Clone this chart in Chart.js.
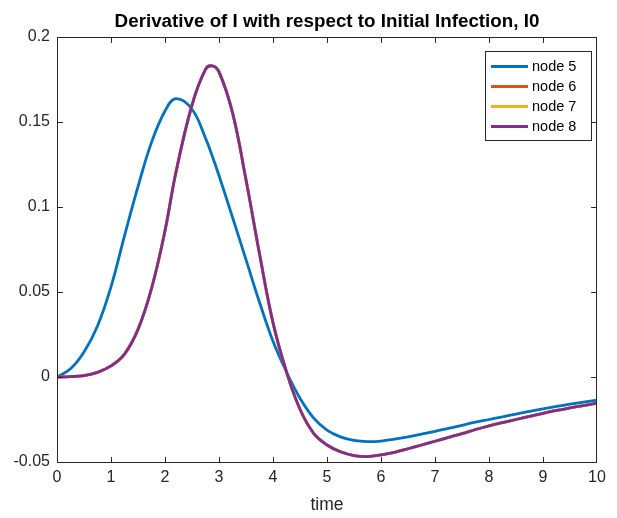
<!DOCTYPE html>
<html>
<head>
<meta charset="utf-8">
<script src="https://cdn.jsdelivr.net/npm/chart.js@4/dist/chart.umd.min.js"></script>
<style>
html,body{margin:0;padding:0;background:#fff;overflow:hidden}
#wrap{width:617px;height:518px;position:relative}
</style>
</head>
<body>
<div id="wrap"><canvas id="c" width="617" height="518"></canvas></div>
<script>
const chartTitle = 'Derivative of I with respect to Initial Infection, I0';
const xAxisLabel = 'time';
const seriesLabels = ['node 5', 'node 6', 'node 7', 'node 8'];
const seriesColors = ['#0072BD', '#D95319', '#EDB120', '#7E2F8E'];

const timeValues = [0, 0.25, 0.5, 0.75, 1, 1.25, 1.5, 1.75, 2, 2.2, 2.5, 2.75, 2.875,
  3, 3.25, 3.5, 3.75, 4, 4.25, 4.5, 4.75, 5, 5.25, 5.5, 5.75, 6, 6.25, 6.5, 6.75,
  7, 7.25, 7.5, 7.75, 8, 8.25, 8.5, 8.75, 9, 9.25, 9.5, 9.75, 10];

const node5Values = [0, 0.0048, 0.0147, 0.030, 0.053, 0.083, 0.112, 0.138, 0.1565, 0.1637, 0.1575, 0.1405, 0.130,
  0.1185, 0.094, 0.069, 0.044, 0.021, 0.003, -0.0125, -0.024, -0.0312, -0.0352, -0.0373, -0.038, -0.0377, -0.0366, -0.0352, -0.0336,
  -0.032, -0.0302, -0.0284, -0.0266, -0.025, -0.0234, -0.0218, -0.0202, -0.0187, -0.0173, -0.016, -0.0148, -0.0136];

const node6Values = [0, 0.0002, 0.0008, 0.0027, 0.0065, 0.0135, 0.028, 0.052, 0.086, 0.12, 0.160, 0.181, 0.183,
  0.1795, 0.1555, 0.116, 0.0725, 0.032, 0.003, -0.019, -0.033, -0.040, -0.044, -0.0462, -0.0468, -0.0458, -0.0443, -0.0422, -0.040,
  -0.0378, -0.0355, -0.0333, -0.0309, -0.0287, -0.0268, -0.025, -0.0232, -0.0214, -0.0197, -0.0182, -0.0168, -0.0154];

const node7Values = [0, 0.0002, 0.0008, 0.0027, 0.0065, 0.0135, 0.028, 0.052, 0.086, 0.12, 0.160, 0.181, 0.183,
  0.1795, 0.1555, 0.116, 0.0725, 0.032, 0.003, -0.019, -0.033, -0.040, -0.044, -0.0462, -0.0468, -0.0458, -0.0443, -0.0422, -0.040,
  -0.0378, -0.0355, -0.0333, -0.0309, -0.0287, -0.0268, -0.025, -0.0232, -0.0214, -0.0197, -0.0182, -0.0168, -0.0154];

const node8Values = [0, 0.0002, 0.0008, 0.0027, 0.0065, 0.0135, 0.028, 0.052, 0.086, 0.12, 0.160, 0.181, 0.183,
  0.1795, 0.1555, 0.116, 0.0725, 0.032, 0.003, -0.019, -0.033, -0.040, -0.044, -0.0462, -0.0468, -0.0458, -0.0443, -0.0422, -0.040,
  -0.0378, -0.0355, -0.0333, -0.0309, -0.0287, -0.0268, -0.025, -0.0232, -0.0214, -0.0197, -0.0182, -0.0168, -0.0154];

const xTicks = [0, 1, 2, 3, 4, 5, 6, 7, 8, 9, 10];
const yTicks = [-0.05, 0, 0.05, 0.1, 0.15, 0.2];

const FONT = '"Liberation Sans", Arial, Helvetica, sans-serif';
const AXIS_COLOR = '#262626';

const allSeries = [node5Values, node6Values, node7Values, node8Values];
const datasets = allSeries.map((vals, i) => ({
  label: seriesLabels[i],
  data: timeValues.map((t, k) => ({x: t, y: vals[k]})),
  borderColor: seriesColors[i],
  backgroundColor: seriesColors[i],
  borderWidth: 2.8,
  pointRadius: 0,
  fill: false,
  tension: 0.4,
  order: allSeries.length - 1 - i,
  xAxisID: 'x',
  yAxisID: 'y'
}));

const frameAndTicks = {
  id: 'frameAndTicks',
  afterDatasetsDraw(chart) {
    const {ctx, chartArea: a, scales: {x, y}} = chart;
    const L = a.left + 0.5, R = a.right - 0.5, T = a.top + 0.5, B = a.bottom + 0.5;
    const len = 5.4;
    ctx.save();
    ctx.strokeStyle = AXIS_COLOR;
    ctx.lineWidth = 1;
    ctx.beginPath();
    x.ticks.forEach(t => {
      let px = Math.round(x.getPixelForValue(t.value)) + 0.5;
      px = Math.min(Math.max(px, L), R);
      ctx.moveTo(px, B); ctx.lineTo(px, B - len);
      ctx.moveTo(px, T); ctx.lineTo(px, T + len);
    });
    y.ticks.forEach(t => {
      let py = Math.round(y.getPixelForValue(t.value)) + 0.5;
      py = Math.min(Math.max(py, T), B);
      ctx.moveTo(L, py); ctx.lineTo(L + len, py);
      ctx.moveTo(R, py); ctx.lineTo(R - len, py);
    });
    ctx.moveTo(L, T); ctx.lineTo(R, T); ctx.lineTo(R, B); ctx.lineTo(L, B); ctx.closePath();
    ctx.stroke();
    ctx.restore();
  }
};

const boxLegend = {
  id: 'boxLegend',
  afterDraw(chart) {
    const {ctx, chartArea: a} = chart;
    const ds = chart.data.datasets;
    ctx.save();
    ctx.font = '14.5px ' + FONT;
    const tw = Math.max(...ds.map(d => ctx.measureText(d.label).width));
    const padL = 6, lineLen = 37, gap = 4, padR = 15, rowH = 20;
    const w = padL + lineLen + gap + tw + padR;
    const h = ds.length * rowH + 9;
    const bx = Math.round(a.right - 6 - w), by = Math.round(a.top + 13.5);
    ctx.fillStyle = '#fff';
    ctx.fillRect(bx, by, w, h);
    ctx.strokeStyle = AXIS_COLOR;
    ctx.lineWidth = 1;
    ctx.strokeRect(bx + 0.5, by + 0.5, Math.round(w), h);
    ds.forEach((d, i) => {
      const cy = by + 15.5 + i * rowH;
      ctx.strokeStyle = d.borderColor;
      ctx.lineWidth = 2.8;
      ctx.beginPath();
      ctx.moveTo(bx + padL, cy); ctx.lineTo(bx + padL + lineLen, cy);
      ctx.stroke();
      ctx.fillStyle = '#000';
      ctx.textBaseline = 'middle';
      ctx.textAlign = 'left';
      ctx.fillText(d.label, bx + padL + lineLen + gap, cy);
    });
    ctx.restore();
  }
};

new Chart(document.getElementById('c'), {
  type: 'line',
  data: {datasets},
  plugins: [frameAndTicks, boxLegend],
  options: {
    responsive: false,
    animation: false,
    devicePixelRatio: 1,
    events: [],
    layout: {padding: 0},
    plugins: {legend: {display: false}, tooltip: {enabled: false}, title: {display: false}},
    scales: {
      x: {
        type: 'linear', position: 'bottom', min: 0, max: 10,
        afterBuildTicks: s => { s.ticks = xTicks.map(v => ({value: v})); },
        afterFit: s => { s.height = 56; },
        grid: {display: false, drawTicks: false},
        border: {display: false},
        ticks: {color: AXIS_COLOR, font: {family: FONT, size: 16}, padding: 6, maxRotation: 0,
          callback: v => String(v)},
        title: {display: true, text: xAxisLabel, color: AXIS_COLOR, font: {family: FONT, size: 17.5},
          padding: {top: 0, bottom: 2}}
      },
      xTop: {
        type: 'linear', position: 'top', min: 0, max: 10,
        afterFit: s => { s.height = 37; },
        grid: {display: false, drawTicks: false},
        border: {display: false},
        ticks: {display: false},
        title: {display: true, text: chartTitle, color: '#000', font: {family: FONT, size: 18.8, weight: 'bold'},
          padding: {top: 11, bottom: 0}}
      },
      y: {
        type: 'linear', position: 'left', min: -0.05, max: 0.2,
        afterBuildTicks: s => { s.ticks = yTicks.map(v => ({value: v})); },
        afterFit: s => { s.width = 57; },
        grid: {display: false, drawTicks: false},
        border: {display: false},
        ticks: {color: AXIS_COLOR, font: {family: FONT, size: 16}, padding: 7,
          callback: v => String(+Number(v).toFixed(2))}
      },
      yRight: {
        type: 'linear', position: 'right', min: -0.05, max: 0.2,
        afterFit: s => { s.width = 20; },
        grid: {display: false, drawTicks: false},
        border: {display: false},
        ticks: {display: false}
      }
    }
  }
});
</script>
</body>
</html>
